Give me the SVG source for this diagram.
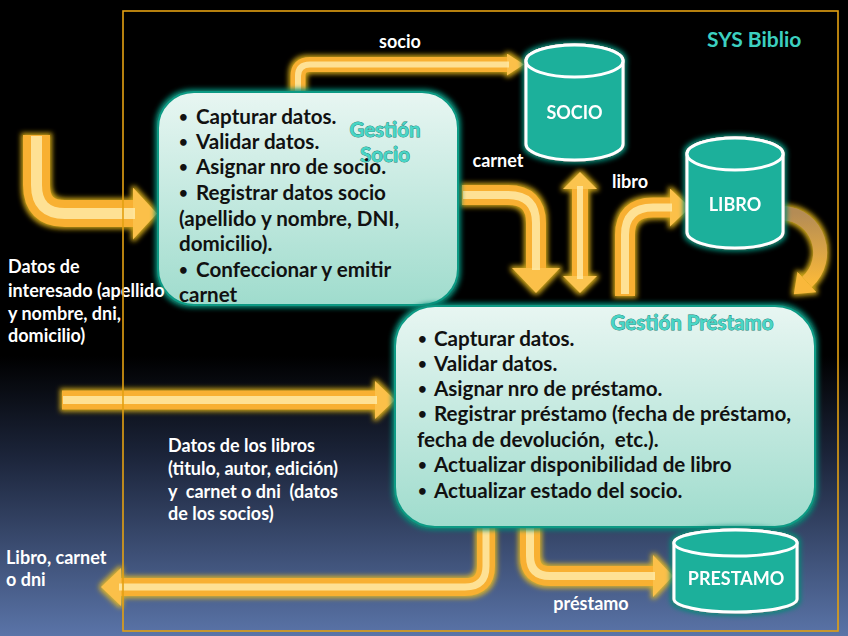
<svg xmlns="http://www.w3.org/2000/svg" width="848" height="636" viewBox="0 0 848 636">
<defs>
<linearGradient id="bg" x1="0" y1="0" x2="0" y2="1">
<stop offset="0" stop-color="#000"/>
<stop offset="0.56" stop-color="#000"/>
<stop offset="0.72" stop-color="#1c253b"/>
<stop offset="1" stop-color="#5a74a8"/>
</linearGradient>
<linearGradient id="boxg" x1="0" y1="0" x2="0" y2="1">
<stop offset="0" stop-color="#e8f6f2"/>
<stop offset="1" stop-color="#9fdccd"/>
</linearGradient>
<linearGradient id="cg" x1="0" y1="0" x2="0" y2="1">
<stop offset="0" stop-color="#b48c55"/>
<stop offset="1" stop-color="#f9b83a"/>
</linearGradient>
<filter id="gy" filterUnits="userSpaceOnUse" x="0" y="0" width="848" height="636">
<feMorphology in="SourceAlpha" operator="dilate" radius="1.5" result="d"/>
<feGaussianBlur in="d" stdDeviation="2.5" result="b"/>
<feFlood flood-color="#f2c21a" flood-opacity="0.85"/>
<feComposite in2="b" operator="in" result="g"/>
<feMerge><feMergeNode in="g"/><feMergeNode in="SourceGraphic"/></feMerge>
</filter>
<filter id="gt" filterUnits="userSpaceOnUse" x="0" y="0" width="848" height="636">
<feMorphology in="SourceAlpha" operator="dilate" radius="2" result="d"/>
<feGaussianBlur in="d" stdDeviation="2.5" result="b"/>
<feFlood flood-color="#0b8a76"/>
<feComposite in2="b" operator="in" result="g"/>
<feMerge><feMergeNode in="g"/><feMergeNode in="SourceGraphic"/></feMerge>
</filter>
<marker id="mS" markerUnits="userSpaceOnUse" viewBox="0 -11 17 22" refX="0" refY="0" markerWidth="17" markerHeight="22" orient="auto"><path d="M0,-11 L17,0 L0,11 z" fill="#fbc04a"/></marker>
<marker id="mD" markerUnits="userSpaceOnUse" viewBox="0 -17 17 34" refX="0" refY="0" markerWidth="17" markerHeight="34" orient="auto-start-reverse"><path d="M0,-17 L17,0 L0,17 z" fill="#fbc450"/></marker>
<marker id="mM" markerUnits="userSpaceOnUse" viewBox="0 -19 20 38" refX="0" refY="0" markerWidth="20" markerHeight="38" orient="auto"><path d="M0,-19 L20,0 L0,19 z" fill="#fbc04a"/></marker>
<marker id="mW" markerUnits="userSpaceOnUse" viewBox="0 -21 20 42" refX="0" refY="0" markerWidth="20" markerHeight="42" orient="auto"><path d="M0,-21 L20,0 L0,21 z" fill="#fbc04a"/></marker>
<marker id="mL" markerUnits="userSpaceOnUse" viewBox="0 -24 25 48" refX="0" refY="0" markerWidth="25" markerHeight="48" orient="auto"><path d="M0,-24 L25,0 L0,24 z" fill="#fbc04a"/></marker>
<marker id="mX" markerUnits="userSpaceOnUse" viewBox="0 -26 24 52" refX="0" refY="0" markerWidth="24" markerHeight="52" orient="auto"><path d="M0,-26 L24,0 L0,26 z" fill="#fbc04a"/></marker>
<marker id="mC" markerUnits="userSpaceOnUse" viewBox="0 -14 18 28" refX="0" refY="0" markerWidth="18" markerHeight="28" orient="auto"><path d="M0,-14 L18,0 L0,14 z" fill="#f9b83a"/></marker>
<style>
.base{fill:none;stroke:#f8b030;stroke-linejoin:round}
.hl{fill:none;stroke:#ffeaa6;stroke-linejoin:round;opacity:0.85}
.box{fill:url(#boxg);stroke:#0e9a84;stroke-width:2}
.cyl{fill:#1bb09b;stroke:#ffffff;stroke-width:3}
.body{font-family:Lato,"Liberation Sans",sans-serif;font-weight:bold;font-size:20.6px;fill:#111}
.bu{font-size:15px}
.title{font-family:Lato,"Liberation Sans",sans-serif;font-weight:bold;font-size:20.5px;fill:#48d6c6;stroke:#137d70;stroke-width:0.8;paint-order:stroke}
.lbl{font-family:Lato,"Liberation Sans",sans-serif;font-weight:bold;font-size:18px;fill:#fff}
.cl{font-family:Lato,"Liberation Sans",sans-serif;font-weight:bold;font-size:18px;fill:#fff;text-anchor:middle}
.sys{font-family:Lato,"Liberation Sans",sans-serif;font-weight:bold;font-size:21px;fill:#3cd0c0}
</style>
</defs>
<rect width="848" height="636" fill="url(#bg)"/>

<g id="connectors">
<g filter="url(#gy)">
<path class="base" stroke-width="27" marker-end="url(#mX)" d="M36.5,135 L36.5,185 Q36.5,213.5 65,213.5 L133,213.5"/>
<path class="base" stroke-width="15" marker-end="url(#mS)" d="M298,93 L298,76 Q298,64.5 310,64.5 L507,64.5"/>
<path class="base" stroke-width="20" marker-end="url(#mL)" d="M462,195 L508,195 Q536,195 536,223 L536,268"/>
<path class="base" stroke-width="16" marker-start="url(#mD)" marker-end="url(#mD)" d="M580,189 L580,276"/>
<path class="base" stroke-width="20" marker-end="url(#mM)" d="M625,296 L625,235 Q625,207.5 653,207.5 L670,207.5"/>
<path fill="none" stroke="url(#cg)" stroke-width="14" marker-end="url(#mC)" d="M783,213 C818,215 833,258 807,282"/>
<path class="base" stroke-width="19" marker-end="url(#mM)" d="M62,400 L375,400"/>
<path class="base" stroke-width="18" marker-end="url(#mM)" d="M486,526 L486,566 Q486,587 465,587 L121,587"/>
<path class="base" stroke-width="20" marker-end="url(#mW)" d="M530,526 L530,556 Q530,576 550,576 L653,576"/>
</g>
<g>
<path class="hl" stroke-width="11" d="M36.5,136 L36.5,185 Q36.5,213.5 65,213.5 L135,213.5"/>
<path class="hl" stroke-width="6" d="M298,91 L298,76 Q298,64.5 310,64.5 L509,64.5"/>
<path class="hl" stroke-width="8" d="M463,195 L508,195 Q536,195 536,223 L536,270"/>
<path class="hl" stroke-width="6" d="M580,186 L580,279"/>
<path class="hl" stroke-width="8" d="M625,294 L625,235 Q625,207.5 653,207.5 L672,207.5"/>
<path class="hl" stroke-width="8" d="M63,400 L377,400"/>
<path class="hl" stroke-width="7" d="M486,528 L486,566 Q486,587 465,587 L119,587"/>
<path class="hl" stroke-width="8" d="M530,528 L530,556 Q530,576 550,576 L655,576"/>
</g>
<text class="cl" x="400" y="48">socio</text>
<text class="cl" x="498" y="167">carnet</text>
<text class="cl" x="630" y="188">libro</text>
<text class="cl" x="591" y="610">préstamo</text>
</g>

<g id="gestion-socio">
<rect class="box" filter="url(#gt)" x="158" y="92" width="300" height="213" rx="36"/>
<text class="title" x="385" y="137" text-anchor="middle">Gestión</text>
<text class="title" x="385" y="162" text-anchor="middle">Socio</text>
<g class="body">
<text><tspan class="bu" x="179" y="122">•</tspan><tspan x="196" y="124">Capturar datos.</tspan></text>
<text><tspan class="bu" x="179" y="147">•</tspan><tspan x="196" y="149">Validar datos.</tspan></text>
<text><tspan class="bu" x="179" y="172">•</tspan><tspan x="196" y="174">Asignar nro de socio.</tspan></text>
<text><tspan class="bu" x="179" y="198">•</tspan><tspan x="196" y="200">Registrar datos socio</tspan></text>
<text x="179" y="226">(apellido y nombre, DNI,</text>
<text x="179" y="251">domicilio).</text>
<text><tspan class="bu" x="179" y="275">•</tspan><tspan x="196" y="277">Confeccionar y emitir</tspan></text>
<text x="179" y="302">carnet</text>
</g>
</g>

<g id="gestion-prestamo">
<rect class="box" filter="url(#gt)" x="395" y="306" width="420" height="221" rx="40"/>
<text class="title" x="692" y="330" text-anchor="middle">Gestión Préstamo</text>
<g class="body">
<text><tspan class="bu" x="418" y="344">•</tspan><tspan x="434" y="346">Capturar datos.</tspan></text>
<text><tspan class="bu" x="418" y="369">•</tspan><tspan x="434" y="371">Validar datos.</tspan></text>
<text><tspan class="bu" x="418" y="394">•</tspan><tspan x="434" y="396">Asignar nro de préstamo.</tspan></text>
<text><tspan class="bu" x="418" y="419">•</tspan><tspan x="434" y="421">Registrar préstamo (fecha de préstamo,</tspan></text>
<text x="417" y="447" xml:space="preserve">fecha de devolución,  etc.).</text>
<text><tspan class="bu" x="418" y="470">•</tspan><tspan x="434" y="472">Actualizar disponibilidad de libro</tspan></text>
<text><tspan class="bu" x="418" y="496">•</tspan><tspan x="434" y="498">Actualizar estado del socio.</tspan></text>
</g>
</g>

<g id="socio-db" filter="url(#gt)">
<path class="cyl" d="M526,61 L526,144 A48.5,16 0 0 0 623,144 L623,61 A48.5,16 0 0 0 526,61 Z"/>
<ellipse class="cyl" cx="574.5" cy="61" rx="48.5" ry="16"/>
<text class="cl" x="574.5" y="119" font-size="17.5">SOCIO</text>
</g>

<g id="libro-db" filter="url(#gt)">
<path class="cyl" d="M687,154 L687,232 A48,16 0 0 0 783,232 L783,154 A48,16 0 0 0 687,154 Z"/>
<ellipse class="cyl" cx="735" cy="154" rx="48" ry="16"/>
<text class="cl" x="735" y="211" font-size="17.5">LIBRO</text>
</g>

<g id="prestamo-db" filter="url(#gt)">
<path class="cyl" d="M674,543 L674,599 A61.5,13 0 0 0 797,599 L797,543 A61.5,13 0 0 0 674,543 Z"/>
<ellipse class="cyl" cx="735.5" cy="543" rx="61.5" ry="13"/>
<text class="cl" x="736" y="585" font-size="19">PRESTAMO</text>
</g>

<g id="labels">
<text class="sys" x="707" y="47">SYS Biblio</text>
<g class="lbl">
<text x="8" y="273">Datos de</text>
<text x="8" y="297">interesado (apellido</text>
<text x="8" y="320">y nombre, dni,</text>
<text x="8" y="342">domicilio)</text>
<text x="168" y="452">Datos de los libros</text>
<text x="168" y="475">(titulo, autor, edición)</text>
<text x="168" y="498" xml:space="preserve">y  carnet o dni  (datos</text>
<text x="168" y="520">de los socios)</text>
<text x="6" y="564">Libro, carnet</text>
<text x="6" y="586">o dni</text>
</g>
</g>

<rect id="sys-frame" x="123" y="11" width="715" height="620" fill="none" stroke="#e3a012" stroke-width="1.6"/>
</svg>
